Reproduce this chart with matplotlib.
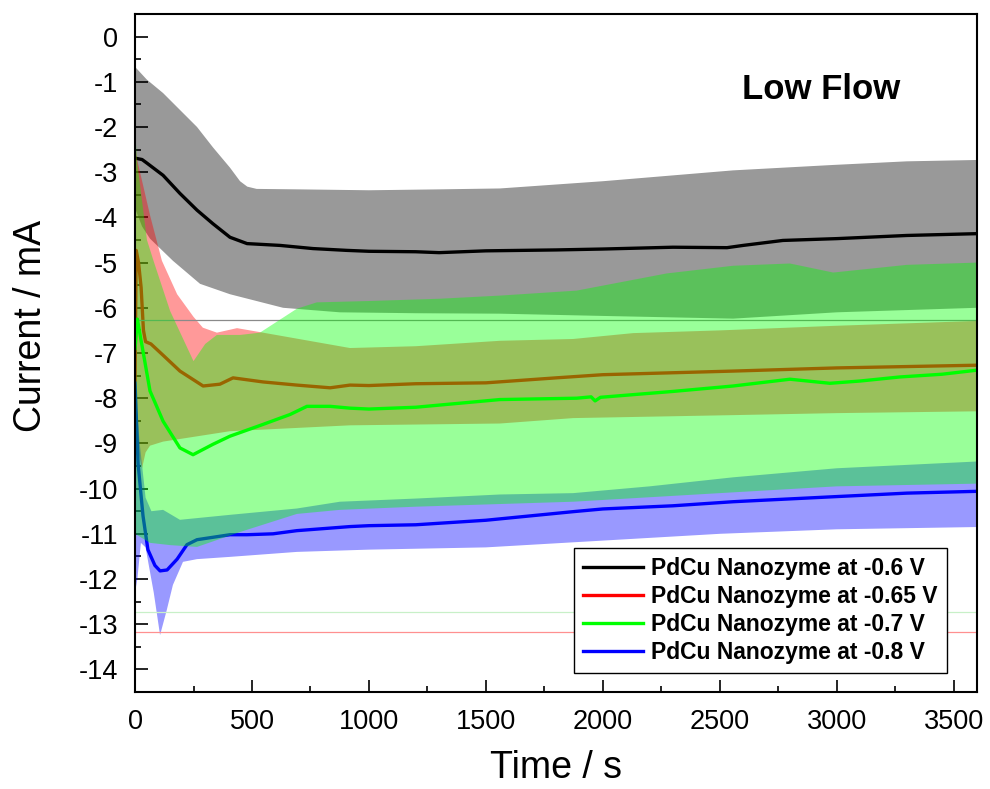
import numpy as np
import matplotlib
matplotlib.use('Agg')
import matplotlib.pyplot as plt
from matplotlib.ticker import MultipleLocator

plt.rcParams['font.family'] = ['Liberation Sans', 'DejaVu Sans']
plt.rcParams['axes.unicode_minus'] = False

# ---- data (time in s, current in mA) ----
labels = ['PdCu Nanozyme at -0.6 V', 'PdCu Nanozyme at -0.65 V',
          'PdCu Nanozyme at -0.7 V', 'PdCu Nanozyme at -0.8 V']
colors = ['#000000', '#ff0000', '#00ff00', '#0000ff']

# -0.6 V
t_06 = [0, 30, 51, 120, 192, 265, 333, 406, 479, 620, 761, 906, 1000, 1200, 1300,
        1500, 1800, 2000, 2300, 2531, 2600, 2770, 3000, 3300, 3600]
i_06 = [-2.69, -2.72, -2.8, -3.07, -3.47, -3.84, -4.14, -4.44, -4.58, -4.62, -4.69,
        -4.73, -4.75, -4.76, -4.78, -4.74, -4.72, -4.7, -4.66, -4.67, -4.62, -4.51,
        -4.47, -4.4, -4.36]
up_t_06 = [0, 50, 120, 265, 333, 406, 449, 480, 520, 700, 1000, 1300, 1560, 2000,
           2557, 2985, 3300, 3600]
up_06 = [-0.67, -0.95, -1.25, -2.0, -2.45, -2.9, -3.2, -3.32, -3.37, -3.38, -3.4,
         -3.38, -3.36, -3.2, -2.96, -2.84, -2.76, -2.73]
lo_t_06 = [0, 30, 64, 162, 278, 406, 633, 876, 1200, 1560, 2000, 2557, 3000, 3600]
lo_06 = [-3.8, -4.2, -4.47, -4.96, -5.47, -5.7, -6.0, -6.1, -6.12, -6.13, -6.18,
         -6.24, -6.1, -6.0]

# -0.65 V
t_065 = [0, 5, 15, 26, 36, 45, 68, 120, 192, 291, 363, 419, 547, 692, 834, 919, 1000,
         1200, 1500, 1800, 2000, 2557, 3000, 3300, 3600]
i_065 = [-7.6, -4.73, -5.0, -5.55, -6.5, -6.75, -6.8, -7.05, -7.4, -7.73, -7.69, -7.55,
         -7.64, -7.71, -7.77, -7.71, -7.72, -7.68, -7.66, -7.55, -7.48, -7.4, -7.33,
         -7.3, -7.27]
up_t_065 = [0, 8, 64, 115, 180, 250, 290, 350, 436, 547, 919, 1200, 1560, 1873, 2130,
            2500, 2985, 3600]
up_065 = [-2.3, -2.7, -3.95, -4.96, -5.7, -6.2, -6.44, -6.55, -6.45, -6.55, -6.89,
          -6.85, -6.73, -6.69, -6.56, -6.5, -6.4, -6.29]
lo_t_065 = [0, 15, 30, 45, 64, 120, 406, 919, 1560, 1873, 2500, 3000, 3600]
lo_065 = [-8.0, -9.2, -9.55, -9.2, -9.05, -8.96, -8.73, -8.6, -8.56, -8.44, -8.38,
          -8.33, -8.29]

# -0.7 V
t_07 = [0, 10, 20, 34, 64, 120, 192, 248, 333, 406, 547, 663, 735, 834, 919, 1000,
        1200, 1560, 1888, 1950, 1967, 1990, 2300, 2557, 2800, 2971, 3100, 3270, 3450,
        3600]
i_07 = [-6.9, -6.25, -6.55, -6.96, -7.84, -8.51, -9.1, -9.25, -9.02, -8.84, -8.58,
        -8.36, -8.18, -8.18, -8.22, -8.24, -8.2, -8.03, -8.0, -7.97, -8.06, -7.98,
        -7.85, -7.73, -7.58, -7.67, -7.62, -7.53, -7.47, -7.38]
up_t_07 = [0, 8, 51, 79, 150, 250, 300, 350, 450, 534, 692, 777, 1000, 1300, 1560,
           1888, 2273, 2557, 2800, 2985, 3300, 3600]
up_07 = [-2.0, -2.73, -4.5, -4.96, -6.07, -7.18, -6.8, -6.6, -6.6, -6.55, -6.02,
         -5.88, -5.85, -5.8, -5.73, -5.62, -5.24, -5.07, -5.02, -5.22, -5.05, -5.0]
lo_t_07 = [0, 64, 150, 265, 449, 692, 876, 1200, 1873, 2500, 3000, 3600]
lo_07 = [-11.0, -11.2, -11.25, -11.29, -10.96, -10.56, -10.47, -10.4, -10.29, -10.1,
         -9.95, -9.89]

# -0.8 V
t_08 = [0, 13, 34, 55, 85, 107, 137, 180, 222, 265, 406, 479, 590, 692, 919, 1000,
        1200, 1500, 1873, 2000, 2300, 2557, 2985, 3300, 3600]
i_08 = [-7.67, -9.45, -10.6, -11.35, -11.7, -11.82, -11.8, -11.56, -11.24, -11.13,
        -11.02, -11.02, -11.0, -10.93, -10.84, -10.82, -10.8, -10.7, -10.51, -10.45,
        -10.38, -10.29, -10.18, -10.1, -10.06]
up_t_08 = [0, 20, 45, 70, 120, 192, 406, 692, 876, 1200, 1560, 1873, 2200, 2557,
           3000, 3600]
up_08 = [-7.7, -9.0, -10.2, -10.5, -10.47, -10.69, -10.58, -10.44, -10.29, -10.22,
         -10.13, -10.1, -9.95, -9.75, -9.55, -9.4]
lo_t_08 = [0, 10, 25, 45, 80, 107, 135, 162, 205, 265, 406, 692, 1000, 1500, 2000,
           2500, 3000, 3600]
lo_08 = [-12.3, -12.0, -11.2, -11.3, -12.3, -13.24, -12.7, -12.13, -11.62, -11.56,
         -11.51, -11.4, -11.35, -11.3, -11.15, -11.0, -10.9, -10.85]

# stray baseline lines left in the original export
base_levels = [-6.27, -12.73, -13.18]
base_colors = ['#8a8a8a', '#c8f0c8', '#ff9090']

fig = plt.figure(figsize=(9.9, 7.89), dpi=100)
ax = fig.add_axes([0.1364, 0.1229, 0.8505, 0.8594])

series = {
    0: (t_06, i_06, up_t_06, up_06, lo_t_06, lo_06),
    1: (t_065, i_065, up_t_065, up_065, lo_t_065, lo_065),
    2: (t_07, i_07, up_t_07, up_07, lo_t_07, lo_07),
    3: (t_08, i_08, up_t_08, up_08, lo_t_08, lo_08),
}
# drawing order: green band goes on top of everything, as in the original
z = 1
handles = {}
for k in [0, 1, 3, 2]:
    t, i, tu, yu, tl, yl = series[k]
    if k == 2:
        for lev, c in zip(base_levels, base_colors):
            ax.axhline(lev, color=c, lw=0.9, zorder=z)
            z += 1
    xs = np.concatenate([tu, tl[::-1]])
    ys = np.concatenate([yu, yl[::-1]])
    ax.fill(xs, ys, color=colors[k], alpha=0.4, lw=0, zorder=z)
    ln, = ax.plot(t, i, color=colors[k], lw=2.4, label=labels[k], zorder=z + 1)
    handles[k] = ln
    z += 2

ax.set_xlim(0, 3600)
ax.set_ylim(-14.5, 0.5)
ax.xaxis.set_major_locator(MultipleLocator(500))
ax.xaxis.set_minor_locator(MultipleLocator(250))
ax.yaxis.set_major_locator(MultipleLocator(1))
ax.yaxis.set_minor_locator(MultipleLocator(0.5))
ax.tick_params(which='both', direction='in', top=False, right=False,
               labelsize=19.5, width=1.2)
ax.tick_params(which='major', length=9, pad=12)
ax.tick_params(which='minor', length=4.5)
for s in ax.spines.values():
    s.set_linewidth(1.5)
    s.set_zorder(50)

ax.set_xlabel('Time / s', fontsize=27)
ax.set_ylabel('Current / mA', fontsize=27)
ax.xaxis.set_label_coords(0.5, -0.085)
ax.yaxis.set_label_coords(-0.102, 0.54)

ax.text(0.815, 0.889, 'Low Flow', transform=ax.transAxes, fontsize=25,
        fontweight='bold', ha='center', va='center')

leg = ax.legend([handles[k] for k in range(4)], labels, loc='lower right',
                bbox_to_anchor=(0.964, 0.028), borderaxespad=0, fancybox=False,
                framealpha=1, edgecolor='black', handlelength=2.6,
                handletextpad=0.35, labelspacing=0.22, borderpad=0.4,
                prop={'weight': 'bold', 'size': 16.5})
leg.get_frame().set_linewidth(1.0)
leg.set_zorder(60)

fig.savefig('out.png', dpi=100)
